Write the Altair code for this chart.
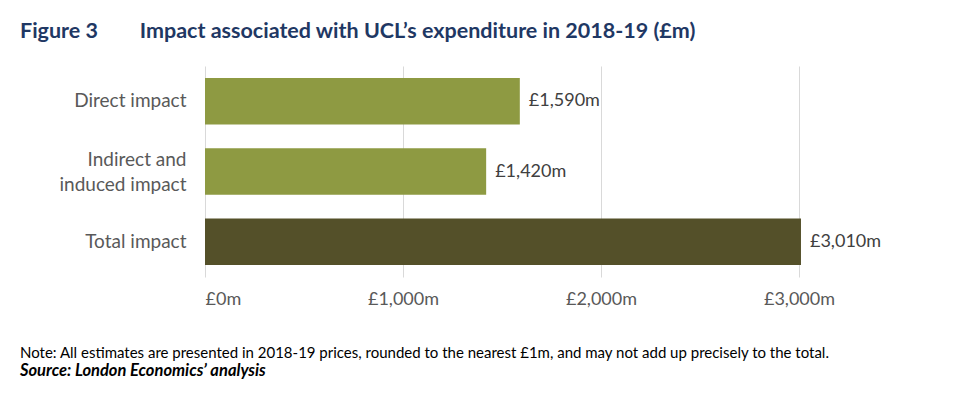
import altair as alt
import pandas as pd

categories = ["Direct impact", "Indirect and|induced impact", "Total impact"]
values = [1590, 1420, 3010]
labels = ["£1,590m", "£1,420m", "£3,010m"]
kinds = ["part", "part", "total"]
tick_values = [0, 1000, 2000, 3000]

df = pd.DataFrame({"cat": categories, "value": values, "label": labels, "kind": kinds})

title_text = "Figure 3\u00a0\u00a0\u00a0\u00a0\u00a0\u00a0\u00a0\u00a0Impact associated with UCL\u2019s expenditure in 2018-19 (£m)"
note_text = "Note: All estimates are presented in 2018-19 prices, rounded to the nearest £1m, and may not add up precisely to the total."
source_text = "Source: London Economics\u2019 analysis"

x_enc = alt.X("value:Q", scale=alt.Scale(domain=[0, 3500], nice=False),
              axis=alt.Axis(values=tick_values, labelExpr="'£' + format(datum.value, ',') + 'm'",
                            title=None, domain=False, ticks=False, labelPadding=13,
                            labelFontSize=18, labelColor="#595959", labelFont="Lato",
                            gridColor="#D9D9D9", gridWidth=1))
y_enc = alt.Y("cat:N", sort=categories,
              scale=alt.Scale(paddingInner=0.34, paddingOuter=0.17),
              axis=alt.Axis(title=None, domain=False, ticks=False, labelPadding=19,
                            labelFontSize=19, labelColor="#595959", labelFont="Lato",
                            labelExpr="split(datum.label, '|')", labelLineHeight=25, grid=False,
                            labelOffset=alt.condition("indexof(datum.label, '|') >= 0",
                                                      alt.value(-12), alt.value(0))))

bars = alt.Chart(df).mark_bar().encode(
    x=x_enc, y=y_enc,
    color=alt.Color("kind:N", scale=alt.Scale(domain=["part", "total"], range=["#8E9A42", "#545029"]), legend=None),
)
text = alt.Chart(df).mark_text(align="left", dx=9, fontSize=18, color="#404040", font="Lato").encode(
    x="value:Q", y=alt.Y("cat:N", sort=categories), text="label:N")

note = alt.Chart(pd.DataFrame({"t": [note_text]})).mark_text(
    align="left", baseline="middle", fontSize=15, color="#000000", font="Lato").encode(
    x=alt.value(-185), y=alt.value(287), text="t:N")
source = alt.Chart(pd.DataFrame({"t": [source_text]})).mark_text(
    align="left", baseline="middle", fontSize=16.5, color="#000000", font="Lato",
    fontWeight="bold", fontStyle="italic").encode(
    x=alt.value(-185), y=alt.value(305), text="t:N")

chart = alt.layer(bars, text, note, source).properties(
    width=693, height=211,
    title=alt.TitleParams(title_text, anchor="start", frame="group", dx=-185, dy=-14,
                          fontSize=21.5, font="Lato", fontWeight="bold", color="#1F3864",
                          offset=10),
    padding={"left": 197, "top": 58, "right": 60, "bottom": 112},
    autosize="none",
).configure_view(stroke=None)

chart.save("out.html", embed_options={"renderer": "svg", "actions": False})
